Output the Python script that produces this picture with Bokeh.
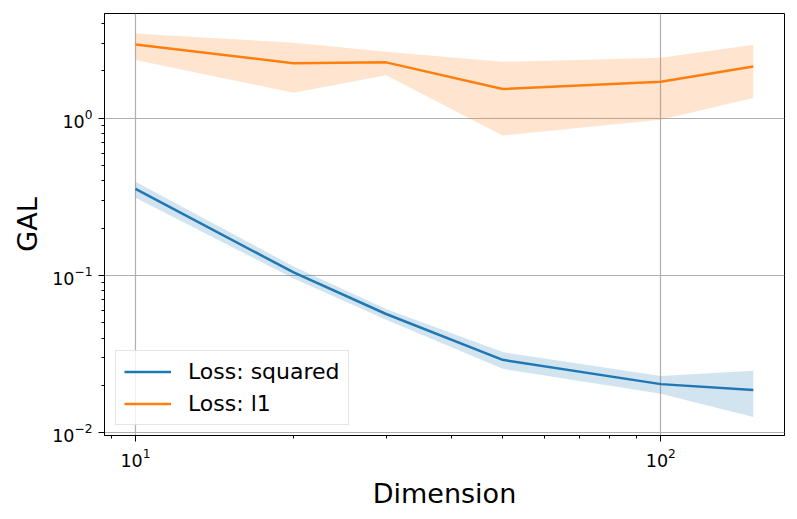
from bokeh.plotting import figure
from bokeh.models import FixedTicker, LogTickFormatter, Legend, LegendItem, Range1d
from bokeh.embed import file_html
from bokeh.resources import INLINE

# ---- data ----
dims = [10, 20, 30, 50, 100, 150]

sq_mean = [0.355, 0.1045, 0.0569, 0.0291, 0.0204, 0.0187]
sq_low = [0.312, 0.0957, 0.0524, 0.0255, 0.0177, 0.0126]
sq_high = [0.394, 0.114, 0.0612, 0.0326, 0.0230, 0.0248]

l1_mean = [2.94, 2.23, 2.26, 1.53, 1.70, 2.13]
l1_low = [2.34, 1.45, 1.87, 0.776, 0.975, 1.34]
l1_high = [3.45, 3.01, 2.64, 2.28, 2.42, 2.92]

x_major = [10, 100]
x_minor = [9, 20, 30, 40, 50, 60, 70, 80, 90, 200]
y_major = [0.01, 0.1, 1]
y_minor = [0.02, 0.03, 0.04, 0.05, 0.06, 0.07, 0.08, 0.09,
           0.2, 0.3, 0.4, 0.5, 0.6, 0.7, 0.8, 0.9, 2, 3, 4]

BLUE = "#1f77b4"
ORANGE = "#ff7f0e"
FONT = "DejaVu Sans"

p = figure(width=793, height=511, x_axis_type="log", y_axis_type="log",
           output_backend="svg", toolbar_location=None,
           x_range=Range1d(8.73, 172), y_range=Range1d(0.00962, 4.62),
           min_border_left=104, min_border_right=9, min_border_top=13,
           min_border_bottom=74)

p.outline_line_color = "black"
p.outline_line_width = 1
p.outline_line_alpha = 1

# bands
p.varea(x=dims, y1=sq_low, y2=sq_high, fill_color=BLUE, fill_alpha=0.2)
p.varea(x=dims, y1=l1_low, y2=l1_high, fill_color=ORANGE, fill_alpha=0.2)

r_sq = p.line(dims, sq_mean, line_color=BLUE, line_width=2.5)
r_l1 = p.line(dims, l1_mean, line_color=ORANGE, line_width=2.5)

# axes
p.xaxis.ticker = FixedTicker(ticks=x_major, minor_ticks=x_minor)
p.yaxis.ticker = FixedTicker(ticks=y_major, minor_ticks=y_minor)
p.xaxis.formatter = LogTickFormatter()
p.yaxis.formatter = LogTickFormatter()

for ax in (p.xaxis[0], p.yaxis[0]):
    ax.axis_line_color = "black"
    ax.major_tick_line_color = "black"
    ax.minor_tick_line_color = "black"
    ax.major_tick_out = 6
    ax.major_tick_in = 0
    ax.minor_tick_out = 3
    ax.minor_tick_in = 0
    ax.major_label_text_font = FONT
    ax.major_label_text_font_size = "17.5px"
    ax.major_label_text_color = "black"
    ax.axis_label_text_font = FONT
    ax.axis_label_text_font_size = "27px"
    ax.axis_label_text_font_style = "normal"
    ax.axis_label_text_color = "black"

p.xaxis.axis_label = "Dimension"
p.yaxis.axis_label = "GAL"
p.xaxis.axis_label_standoff = 8
p.yaxis.axis_label_standoff = 6
p.xaxis.major_label_standoff = 6
p.yaxis.major_label_standoff = 6

p.grid.grid_line_color = "#b0b0b0"
p.grid.grid_line_width = 1.2
p.xgrid.ticker = FixedTicker(ticks=x_major)
p.ygrid.ticker = FixedTicker(ticks=y_major)

legend = Legend(items=[LegendItem(label="Loss: squared", renderers=[r_sq]),
                       LegendItem(label="Loss: l1", renderers=[r_l1])],
                location=(11, 10), orientation="vertical")
legend.label_text_font = FONT
legend.label_text_font_size = "22px"
legend.label_text_color = "black"
legend.glyph_width = 47
legend.glyph_height = 25
legend.label_height = 25
legend.label_standoff = 17
legend.spacing = 7
legend.padding = 8
legend.margin = 0
legend.border_line_color = "#cccccc"
legend.border_line_width = 1
legend.background_fill_alpha = 0.8
p.add_layout(legend, "center")

open("out.html", "w").write(file_html(p, INLINE))
